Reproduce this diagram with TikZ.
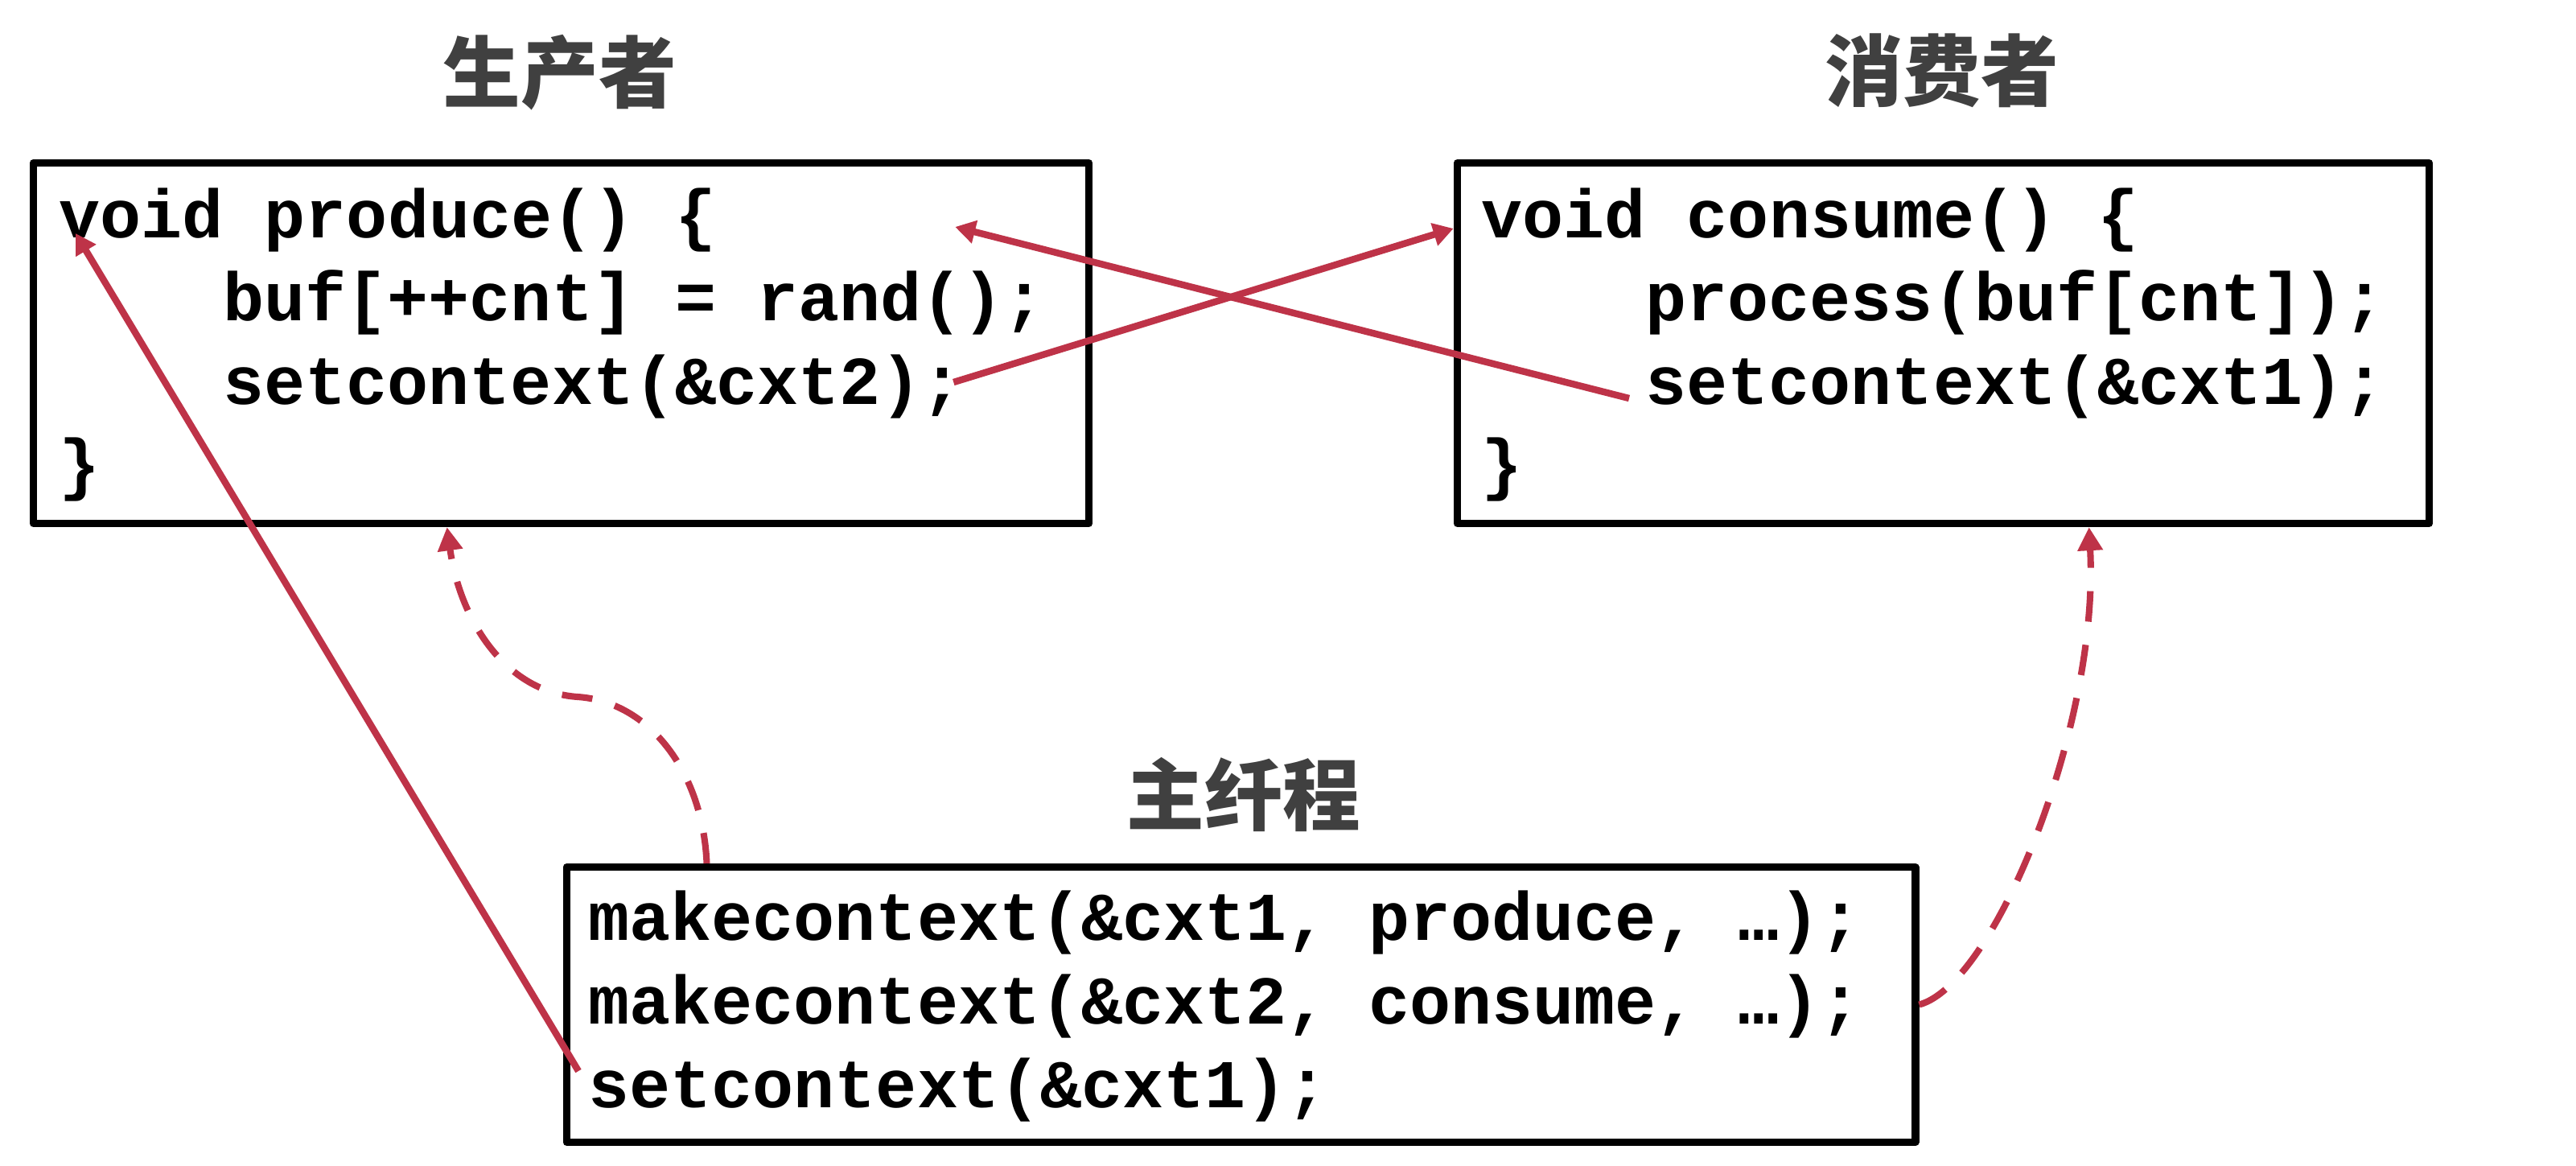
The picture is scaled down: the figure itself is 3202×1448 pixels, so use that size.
\documentclass[tikz,border=0pt]{standalone}
\usepackage{fontspec}
\setmonofont{Liberation Mono}
\newfontfamily\cjk{Noto Sans CJK SC}
\usepackage{xcolor}
\usepackage{tikz}
\usetikzlibrary{arrows.meta, positioning, calc}

\definecolor{linkred}{RGB}{190,51,72}
\definecolor{titlegray}{RGB}{64,64,64}

\begin{document}
\begin{tikzpicture}[
    x=0.01cm, y=-0.01cm,
    codebox/.style={rectangle, draw, line width=2.7pt, line join=round, minimum height=4.475cm},
    codeline/.style={anchor=base west, inner sep=0pt, font=\ttfamily\bfseries\fontsize{24.19pt}{29pt}\selectfont},
    heading/.style={inner sep=0pt, text=titlegray, font=\cjk\bfseries\fontsize{27.5pt}{33pt}\selectfont},
    jumparrow/.style={draw=linkred, line width=2.4pt, -{Triangle[length=0.25cm, width=0.28cm]}},
    dasharrow/.style={draw=linkred, line width=2.3pt, dash pattern=on 0.38cm off 0.29cm, -{Triangle[length=0.29cm, width=0.3cm]}}
]
\useasboundingbox (0,0) rectangle (3202,1448);

% Titles
\node[heading] (prodtitle) at (696,90) {生产者};
\node[heading] (constitle) at (2414,88) {消费者};
\node[heading] (maintitle) at (1546,987) {主纤程};

% Boxes
\node[codebox, minimum width=13.115cm] (prodbox) at (697.5,426.5) {};
\node[codebox, minimum width=12.075cm] (consbox) at (2415.5,426.5) {};
\node[codebox, minimum width=16.755cm, minimum height=3.415cm] (mainbox) at (1542.5,1248.5) {};

% Producer code
\node[codeline] (p1) at (73,295) {void produce() \{};
\node[codeline] (p2) at (277,398) {buf[++cnt] = rand();};
\node[codeline] (p3) at (277,502) {setcontext(\&cxt2);};
\node[codeline] (p4) at (73,605) {\}};

% Consumer code
\node[codeline] (c1) at (1841,295) {void consume() \{};
\node[codeline] (c2) at (2045,398) {process(buf[cnt]);};
\node[codeline] (c3) at (2045,502) {setcontext(\&cxt1);};
\node[codeline] (c4) at (1841,605) {\}};

% Main fiber code
\node[codeline] (m1) at (731,1168) {makecontext(\&cxt1, produce, …);};
\node[codeline] (m2) at (731,1272) {makecontext(\&cxt2, consume, …);};
\node[codeline] (s1) at (731,1376) {setcontext(\&cxt1);};

% Connections
\draw[jumparrow] ($(s1.base west)+(-12,-45)$) -- ($(p1.base west)+(21,-5)$);
\draw[jumparrow] ($(p3.base east)+(-12,-27)$) -- ($(consbox.west |- c1.base)+(0,-11)$);
\draw[jumparrow] ($(c3.base west)+(-20,-7)$) -- ($(p3.base east |- p1.base)+(-10,-13)$);

\coordinate (bend) at (718,866);
\draw[dasharrow] ($(mainbox.north west)+(179,0)$) .. controls +(-5,-114) and +(89,6) .. (bend)
    .. controls +(-90,-6) and +(16,115) .. ($(prodbox.south west)+(519,0)$);
\draw[dasharrow] (mainbox.east) .. controls +(94,-25) and +(13,245) .. ($(consbox.south west)+(790,0)$);

\end{tikzpicture}
\end{document}
